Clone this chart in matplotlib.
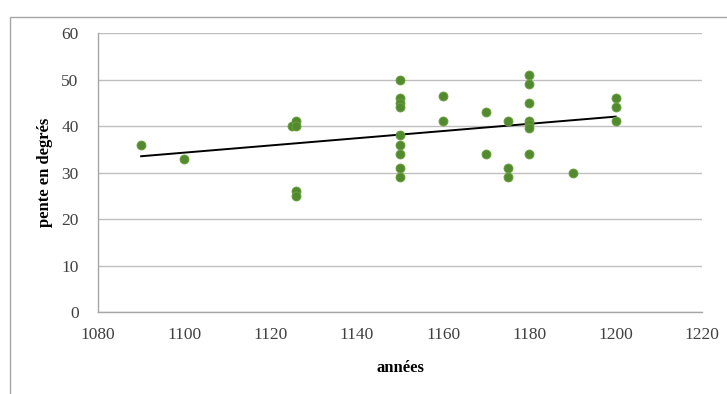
import numpy as np
import matplotlib.pyplot as plt
from matplotlib.patches import Rectangle

# data
annees = [1090, 1100, 1125, 1126, 1126, 1126, 1126,
          1150, 1150, 1150, 1150, 1150, 1150, 1150, 1150, 1150,
          1160, 1160, 1170, 1170, 1175, 1175, 1175,
          1180, 1180, 1180, 1180, 1180, 1180, 1180,
          1190, 1200, 1200, 1200]
pente = [36, 33, 40, 41, 40, 26, 25,
         50, 46, 45, 44, 38, 36, 34, 31, 29,
         46.5, 41, 43, 34, 41, 31, 29,
         51, 49, 45, 41, 40.5, 39.5, 34,
         30, 46, 44, 41]

plt.rcParams['font.family'] = ['Liberation Serif', 'DejaVu Serif']

fig = plt.figure(figsize=(7.27, 3.94), dpi=100)
ax = fig.add_axes([98 / 727, 1 - 312 / 394, 604 / 727, 279 / 394])

# outer chart border (cut off on right and bottom)
fig.add_artist(Rectangle((10 / 727, -0.1), 1.2, 1 - 17 / 394 + 0.1,
                         transform=fig.transFigure, fill=False,
                         edgecolor='#a6a6a6', linewidth=1.0))

ax.scatter(annees, pente, s=42, color='#538a2f', edgecolor='#6aa33f',
           linewidths=0.6, zorder=3)

# linear trendline
x = np.array(annees, dtype=float)
a, b = np.polyfit(x, pente, 1)
xs = np.array([x.min(), x.max()])
ax.plot(xs, a * xs + b, color='black', linewidth=1.4, zorder=2)

ax.set_xlim(1080, 1220)
ax.set_ylim(0, 60)
ax.set_xticks(range(1080, 1221, 20))
ax.set_yticks(range(0, 61, 10))
ax.grid(axis='y', color='#bfbfbf', linewidth=1.0)
ax.set_axisbelow(True)
ax.tick_params(length=0, labelsize=12.5, colors='#404040')
ax.tick_params(axis='y', pad=14)
ax.tick_params(axis='x', pad=11)
for s in ['top', 'right']:
    ax.spines[s].set_visible(False)
for s in ['left', 'bottom']:
    ax.spines[s].set_color('#a6a6a6')
    ax.spines[s].set_linewidth(1.0)

ax.set_xlabel('années', fontsize=12, fontweight='bold', labelpad=12)
ax.set_ylabel('pente en degrés', fontsize=12, fontweight='bold', labelpad=6)

fig.savefig('out.png', dpi=100)
